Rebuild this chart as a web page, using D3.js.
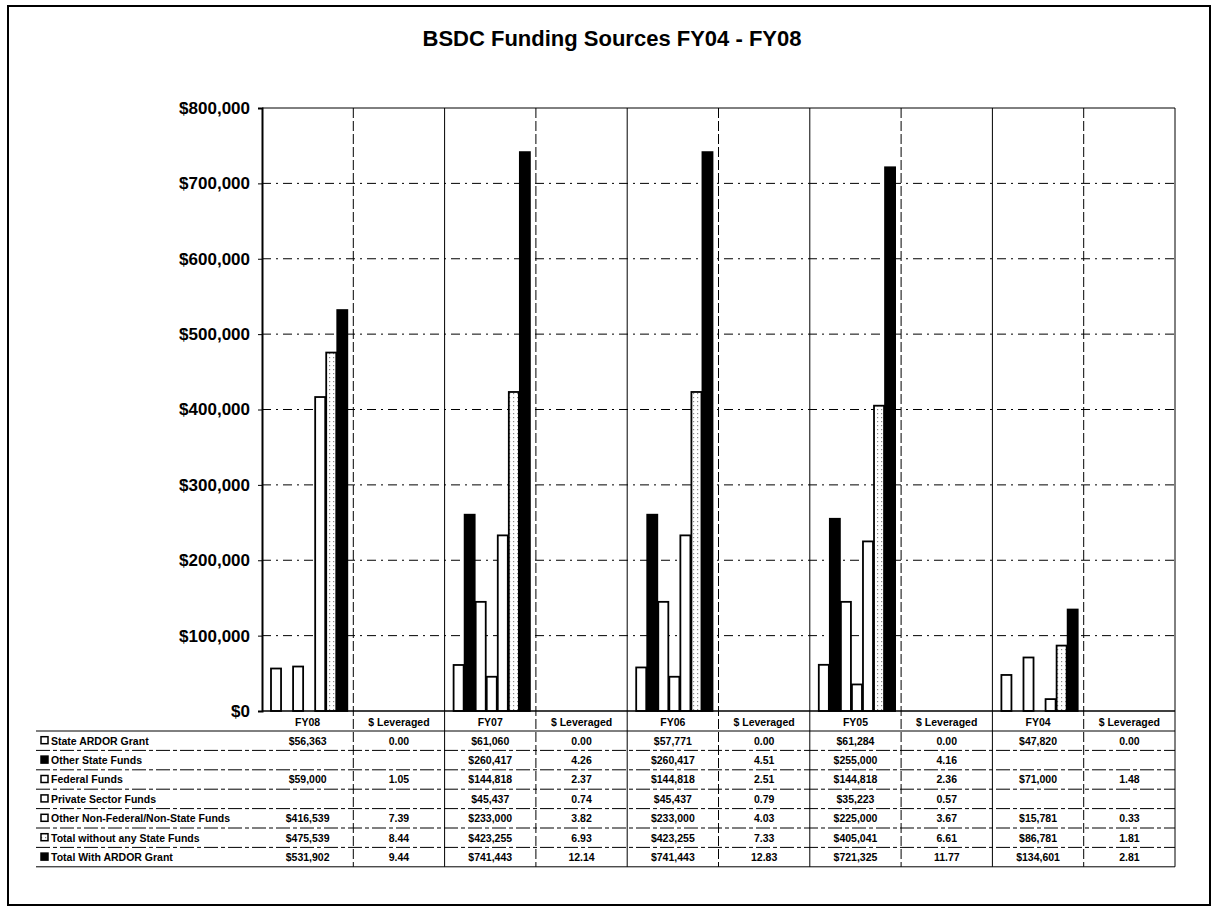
<!DOCTYPE html>
<html>
<head>
<meta charset="utf-8">
<script src="https://cdn.jsdelivr.net/npm/d3@7"></script>
<style>
  body { margin: 0; background: #fff; }
  text { font-family: Arial, "Liberation Sans", sans-serif; font-weight: bold; fill: #000; }
</style>
</head>
<body>
<svg id="chart" width="1218" height="918"></svg>
<script>
// Data
const years = ["FY08", "FY07", "FY06", "FY05", "FY04"];
const seriesNames = [
  "State ARDOR Grant",
  "Other State Funds",
  "Federal Funds",
  "Private Sector Funds",
  "Other Non-Federal/Non-State Funds",
  "Total without any State Funds",
  "Total With ARDOR Grant"
];
const stateArdor   = [56363, 61060, 57771, 61284, 47820];
const otherState   = [null, 260417, 260417, 255000, null];
const federal      = [59000, 144818, 144818, 144818, 71000];
const privateFunds = [null, 45437, 45437, 35223, null];
const otherNonFed  = [416539, 233000, 233000, 225000, 15781];
const totalWithout = [475539, 423255, 423255, 405041, 86781];
const totalWith    = [531902, 741443, 741443, 721325, 134601];

// "$ Leveraged" column values
const levStateArdor   = ["0.00", "0.00", "0.00", "0.00", "0.00"];
const levOtherState   = ["", "4.26", "4.51", "4.16", ""];
const levFederal      = ["1.05", "2.37", "2.51", "2.36", "1.48"];
const levPrivate      = ["", "0.74", "0.79", "0.57", ""];
const levOtherNonFed  = ["7.39", "3.82", "4.03", "3.67", "0.33"];
const levTotalWithout = ["8.44", "6.93", "7.33", "6.61", "1.81"];
const levTotalWith    = ["9.44", "12.14", "12.83", "11.77", "2.81"];

const yTicks = [0, 100000, 200000, 300000, 400000, 500000, 600000, 700000, 800000];
const levLabel = "$ Leveraged";

const values = [stateArdor, otherState, federal, privateFunds, otherNonFed, totalWithout, totalWith];
const levs = [levStateArdor, levOtherState, levFederal, levPrivate, levOtherNonFed, levTotalWithout, levTotalWith];

// Styling per series (in series order)
const seriesFill = ["#fff", "#000", "#fff", "#fff", "#fff", "url(#dots)", "#000"];

const plot = { left: 262, right: 1175, top: 108, bottom: 711 };
const table = { left: 36, labelX: 41, headerBottom: 731, rowH: 19.4 };

const svg = d3.select("#chart");

// Speckled pattern for the "Total without" bars
const defs = svg.append("defs");
const pat = defs.append("pattern")
  .attr("id", "dots").attr("patternUnits", "userSpaceOnUse")
  .attr("width", 4).attr("height", 4);
pat.append("rect").attr("width", 4).attr("height", 4).attr("fill", "#fff");
pat.append("rect").attr("x", 1).attr("y", 1).attr("width", 1.2).attr("height", 1.2).attr("fill", "#888");

// Outer frame
svg.append("rect")
  .attr("x", 8).attr("y", 6).attr("width", 1202).attr("height", 899)
  .attr("fill", "none").attr("stroke", "#000").attr("stroke-width", 2);

// Title
svg.append("text")
  .attr("x", 612).attr("y", 46)
  .attr("text-anchor", "middle")
  .style("font-size", "22px")
  .text("BSDC Funding Sources FY04 - FY08");

// Scales
const columns = years.flatMap(y => [y, y + "|lev"]);
const x = d3.scaleBand().domain(columns).range([plot.left, plot.right]).padding(0);
const y = d3.scaleLinear().domain([0, 800000]).range([plot.bottom, plot.top]);
const xSeries = d3.scaleBand().domain(d3.range(seriesNames.length))
  .range([9, x.bandwidth() - 5]).padding(0);

// Horizontal gridlines
svg.append("g").selectAll("line")
  .data(yTicks.filter(d => d > 0))
  .join("line")
  .attr("x1", plot.left).attr("x2", plot.right)
  .attr("y1", d => y(d)).attr("y2", d => y(d))
  .attr("stroke", "#000").attr("stroke-width", 1)
  .attr("stroke-dasharray", d => d === 800000 ? null : "9,5,2,5");

// Vertical column separators (through the plot and the table)
const tableBottom = table.headerBottom + table.rowH * seriesNames.length;
svg.append("g").selectAll("line")
  .data(columns.slice(1).map(c => x(c)).concat([plot.right]))
  .join("line")
  .attr("x1", d => d).attr("x2", d => d)
  .attr("y1", plot.top).attr("y2", tableBottom)
  .attr("stroke", "#000").attr("stroke-width", 1)
  .attr("stroke-dasharray", (d, i) => i % 2 === 0 ? "10,3" : null);

// Y axis
const yAxis = d3.axisLeft(y)
  .tickValues(yTicks)
  .tickFormat(d3.format("$,"))
  .tickSize(4)
  .tickPadding(8);
const gy = svg.append("g")
  .attr("transform", `translate(${plot.left},0)`)
  .call(yAxis);
gy.select(".domain").attr("stroke", "#000").attr("stroke-width", 2);
gy.selectAll(".tick line").attr("stroke", "#000");
gy.selectAll(".tick text")
  .attr("fill", "#000")
  .style("font-size", "17px")
  .style("font-family", "Arial, 'Liberation Sans', sans-serif")
  .style("font-weight", "bold");

// Bars
const barData = [];
years.forEach((yr, i) => {
  values.forEach((arr, s) => {
    if (arr[i] != null) barData.push({ year: yr, s, v: arr[i] });
  });
});
svg.append("g").selectAll("rect")
  .data(barData)
  .join("rect")
  .attr("x", d => x(d.year) + xSeries(d.s))
  .attr("y", d => y(d.v))
  .attr("width", xSeries.bandwidth() - 1)
  .attr("height", d => y(0) - y(d.v))
  .attr("fill", d => seriesFill[d.s])
  .attr("stroke", "#000")
  .attr("stroke-width", 1.8);

// Baseline
svg.append("line")
  .attr("x1", plot.left).attr("x2", plot.right)
  .attr("y1", plot.bottom).attr("y2", plot.bottom)
  .attr("stroke", "#000").attr("stroke-width", 1.5);

// Header row of the data table
svg.append("g").selectAll("text")
  .data(columns)
  .join("text")
  .attr("x", d => x(d) + x.bandwidth() / 2)
  .attr("y", plot.bottom + 15)
  .attr("text-anchor", "middle")
  .style("font-size", "10.5px")
  .text(d => d.endsWith("|lev") ? levLabel : d);

// Table row lines
const rowLines = d3.range(seriesNames.length + 1).map(r => table.headerBottom + r * table.rowH);
svg.append("g").selectAll("line")
  .data(rowLines)
  .join("line")
  .attr("x1", table.left).attr("x2", plot.right)
  .attr("y1", d => d).attr("y2", d => d)
  .attr("stroke", "#000").attr("stroke-width", 1)
  .attr("stroke-dasharray", (d, i) => (i === 0 || i === rowLines.length - 1) ? null : "14,3,4,3");

// Table rows
const rows = svg.append("g").selectAll("g")
  .data(seriesNames)
  .join("g")
  .attr("transform", (d, i) => `translate(0,${table.headerBottom + i * table.rowH})`);

rows.append("rect")
  .attr("x", table.labelX).attr("y", table.rowH / 2 - 4)
  .attr("width", 7).attr("height", 7)
  .attr("fill", (d, i) => seriesFill[i])
  .attr("stroke", "#000").attr("stroke-width", 1.5);

rows.append("text")
  .attr("x", table.labelX + 10)
  .attr("y", table.rowH / 2 + 4)
  .style("font-size", "10.5px")
  .text(d => d);

rows.each(function (name, s) {
  const g = d3.select(this);
  years.forEach((yr, i) => {
    const v = values[s][i];
    g.append("text")
      .attr("x", x(yr) + x.bandwidth() / 2)
      .attr("y", table.rowH / 2 + 4)
      .attr("text-anchor", "middle")
      .style("font-size", "10.5px")
      .text(v == null ? "" : d3.format("$,")(v));
    g.append("text")
      .attr("x", x(yr + "|lev") + x.bandwidth() / 2)
      .attr("y", table.rowH / 2 + 4)
      .attr("text-anchor", "middle")
      .style("font-size", "10.5px")
      .text(levs[s][i]);
  });
});
</script>
</body>
</html>
